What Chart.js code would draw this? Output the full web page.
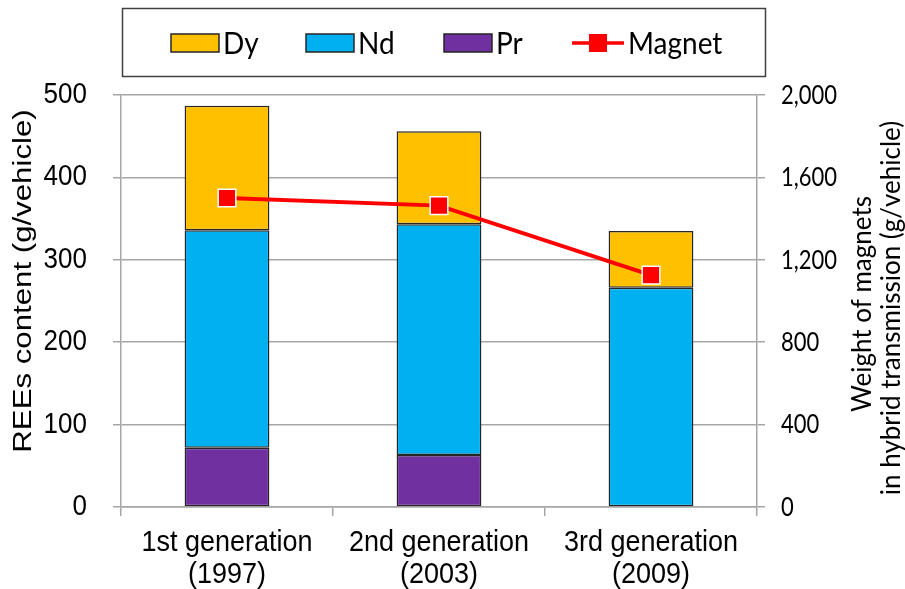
<!DOCTYPE html>
<html>
<head>
<meta charset="utf-8">
<script src="https://cdn.jsdelivr.net/npm/chart.js@4.4.1/dist/chart.umd.min.js"></script>
<style>
  html, body { margin: 0; padding: 0; background: #ffffff; }
  #wrap { width: 905px; height: 589px; position: relative; }
</style>
</head>
<body>
<div id="wrap"><canvas id="chart" width="905" height="589"></canvas></div>
<script>
// Rare-earth content per vehicle, stacked by element, plus magnet weight
const categories = [['1st generation', '(1997)'], ['2nd generation', '(2003)'], ['3rd generation', '(2009)']];
const prValues = [72, 63, 1];
const ndValues = [264, 280, 265];
const dyValues = [151, 113, 69];
const magnetValues = [1500, 1463, 1126];
const leftTicks = [0, 100, 200, 300, 400, 500];
const rightTicks = [0, 400, 800, 1200, 1600, 2000];
const leftTitle = 'REEs content (g/vehicle)';
const rightTitle = ['Weight of magnets', 'in hybrid transmission (g/vehicle)'];

const ARIAL = '"Liberation Sans", Arial, sans-serif';
const CALI = 'Lato, "Open Sans", sans-serif';
const GRID = '#a6a6a6';
const EDGE = '#262626';

function drawText(ctx, str, x, y, font, o) {
  o = o || {};
  ctx.save();
  ctx.translate(x, y);
  if (o.rot) ctx.rotate(o.rot);
  ctx.scale(o.sx || 1, o.sy || 1);
  ctx.font = font;
  ctx.fillStyle = o.color || '#000000';
  ctx.textAlign = o.align || 'center';
  ctx.textBaseline = o.baseline || 'middle';
  ctx.fillText(str, 0, 0);
  ctx.restore();
}

// Axis labels, titles and the boxed legend are painted here
const labelsPlugin = {
  id: 'labelsPlugin',
  afterDraw(chart) {
    const ctx = chart.ctx;
    const sx = chart.scales.x, sy = chart.scales.y, sy1 = chart.scales.y1;

    leftTicks.forEach(v => {
      drawText(ctx, String(v), 87, sy.getPixelForValue(v), '26px ' + ARIAL, { align: 'right', sy: 1.12 });
    });
    rightTicks.forEach(v => {
      drawText(ctx, v.toLocaleString('en-US'), 781, sy1.getPixelForValue(v), '22px ' + CALI, { align: 'left', sy: 1.25 });
    });
    chart.data.labels.forEach((lab, i) => {
      const px = sx.getPixelForValue(i);
      drawText(ctx, lab[0], px, 543, '27px ' + ARIAL, { sy: 1.12 });
      drawText(ctx, lab[1], px, 575, '27px ' + ARIAL, { sy: 1.12 });
    });

    const midY = (chart.chartArea.top + chart.chartArea.bottom) / 2;
    drawText(ctx, leftTitle, 24, midY - 20, '26px ' + ARIAL, { rot: -Math.PI / 2, sx: 1.2 });
    drawText(ctx, rightTitle[0], 863, midY + 3, '26px ' + CALI, { rot: -Math.PI / 2 });
    drawText(ctx, rightTitle[1], 892, midY + 7, '26px ' + CALI, { rot: -Math.PI / 2 });

    // legend box
    ctx.save();
    ctx.strokeStyle = '#404040';
    ctx.lineWidth = 1.5;
    ctx.strokeRect(122.5, 8.5, 643, 68);
    const ds = chart.data.datasets;
    const order = [2, 1, 0];
    const swX = [171, 306, 444];
    const cy = 43;
    order.forEach((di, k) => {
      ctx.fillStyle = ds[di].backgroundColor;
      ctx.fillRect(swX[k], cy - 9, 48, 18);
      ctx.strokeStyle = EDGE;
      ctx.lineWidth = 1.5;
      ctx.strokeRect(swX[k], cy - 9, 48, 18);
      drawText(ctx, ds[di].label, swX[k] + 52, cy + 1, '28px ' + CALI, { align: 'left', sy: 1.12 });
    });
    const m = ds[3];
    ctx.strokeStyle = m.borderColor;
    ctx.lineWidth = 3.5;
    ctx.beginPath();
    ctx.moveTo(572, cy); ctx.lineTo(624, cy);
    ctx.stroke();
    ctx.fillStyle = m.pointBackgroundColor;
    ctx.fillRect(589, cy - 9, 18, 18);
    drawText(ctx, m.label, 628, cy + 1, '28px ' + CALI, { align: 'left', sy: 1.12 });
    ctx.restore();
  }
};

const barStyle = { borderColor: EDGE, borderWidth: 1.5, borderSkipped: false, barPercentage: 0.4, categoryPercentage: 1.0, order: 1, yAxisID: 'y' };

new Chart(document.getElementById('chart'), {
  type: 'bar',
  data: {
    labels: categories,
    datasets: [
      Object.assign({ label: 'Pr', data: prValues, backgroundColor: '#7030a0' }, barStyle),
      Object.assign({ label: 'Nd', data: ndValues, backgroundColor: '#00b0f0' }, barStyle),
      Object.assign({ label: 'Dy', data: dyValues, backgroundColor: '#ffc000' }, barStyle),
      {
        type: 'line', label: 'Magnet', data: magnetValues, yAxisID: 'y1', order: 0,
        borderColor: '#ff0000', borderWidth: 4, tension: 0,
        pointStyle: 'rect', pointRadius: 12.5, pointHoverRadius: 12.5,
        pointBackgroundColor: '#ff0000', pointBorderColor: '#ffffff', pointBorderWidth: 1.5
      }
    ]
  },
  options: {
    responsive: false,
    animation: false,
    events: [],
    layout: { padding: { top: 95, left: 0, right: 0, bottom: 0 } },
    plugins: { legend: { display: false }, tooltip: { enabled: false } },
    scales: {
      x: {
        stacked: true,
        afterFit: s => { s.height = 82; },
        grid: { offset: true, drawOnChartArea: false, color: GRID, tickLength: 9, lineWidth: 1.5 },
        border: { color: GRID, width: 1.5 },
        ticks: { display: false }
      },
      y: {
        stacked: true, position: 'left', min: 0, max: 500,
        afterFit: s => { s.width = 121; },
        afterBuildTicks: s => { s.ticks = leftTicks.map(v => ({ value: v })); },
        grid: { color: GRID, tickLength: 8, lineWidth: 1.5 },
        border: { color: GRID, width: 1.5 },
        ticks: { display: false }
      },
      y1: {
        position: 'right', min: 0, max: 2000,
        afterFit: s => { s.width = 148; },
        afterBuildTicks: s => { s.ticks = rightTicks.map(v => ({ value: v })); },
        grid: { drawOnChartArea: false, color: GRID, tickLength: 8, lineWidth: 1.5 },
        border: { color: GRID, width: 1.5 },
        ticks: { display: false }
      }
    }
  },
  plugins: [labelsPlugin]
});
</script>
</body>
</html>
